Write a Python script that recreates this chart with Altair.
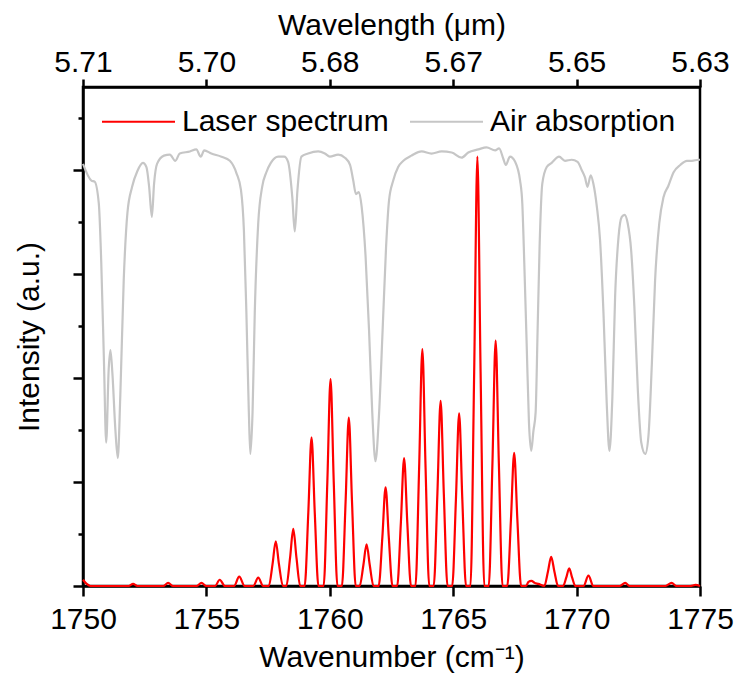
import altair as alt
import pandas as pd

# ---------------- data ----------------
laser_wn = [
    1750.00, 1750.15, 1750.30,
    1751.85, 1752.03, 1752.20,
    1753.25, 1753.45, 1753.65,
    1754.60, 1754.80, 1755.00,
    1755.35, 1755.54, 1755.75,
    1756.12, 1756.33, 1756.55,
    1756.90, 1757.10, 1757.30,
    1757.53, 1757.68, 1757.81, 1757.94, 1758.10,
    1758.24, 1758.39, 1758.52, 1758.65, 1758.80,
    1758.98, 1759.13, 1759.26, 1759.39, 1759.54,
    1759.75, 1759.90, 1760.03, 1760.16, 1760.31,
    1760.49, 1760.64, 1760.77, 1760.90, 1761.05,
    1761.21, 1761.36, 1761.49, 1761.62, 1761.77,
    1761.98, 1762.13, 1762.26, 1762.39, 1762.54,
    1762.73, 1762.88, 1763.01, 1763.14, 1763.29,
    1763.47, 1763.62, 1763.75, 1763.88, 1764.03,
    1764.21, 1764.36, 1764.49, 1764.62, 1764.77,
    1764.96, 1765.11, 1765.24, 1765.37, 1765.52,
    1765.70, 1765.85, 1765.98, 1766.11, 1766.26,
    1766.44, 1766.59, 1766.72, 1766.85, 1767.00,
    1767.19, 1767.34, 1767.47, 1767.60, 1767.75,
    1767.95, 1768.05, 1768.17, 1768.30, 1768.45,
    1768.69, 1768.84, 1768.97, 1769.10, 1769.25,
    1769.45, 1769.58, 1769.70, 1769.82, 1769.95,
    1770.28, 1770.48, 1770.68,
    1771.75, 1771.97, 1772.15,
    1773.60, 1773.85, 1774.05,
    1774.60, 1774.82, 1775.00,
]
laser_int = [
    0.06, 0.02, 0,
    0, 0.02, 0,
    0, 0.03, 0,
    0, 0.03, 0,
    0, 0.06, 0,
    0, 0.09, 0,
    0, 0.08, 0,
    0, 0.21, 0.43, 0.21, 0,
    0, 0.27, 0.55, 0.27, 0,
    0, 0.71, 1.43, 0.71, 0,
    0, 1.00, 1.99, 1.00, 0,
    0, 0.81, 1.62, 0.81, 0,
    0, 0.20, 0.40, 0.20, 0,
    0, 0.47, 0.95, 0.47, 0,
    0, 0.61, 1.23, 0.61, 0,
    0, 1.14, 2.28, 1.14, 0,
    0, 0.89, 1.78, 0.89, 0,
    0, 0.83, 1.66, 0.83, 0,
    0, 2.06, 4.13, 2.06, 0,
    0, 1.18, 2.36, 1.18, 0,
    0, 0.64, 1.28, 0.64, 0,
    0, 0.04, 0.05, 0.03, 0.02,
    0, 0.14, 0.28, 0.14, 0,
    0, 0.08, 0.17, 0.08, 0,
    0, 0.10, 0,
    0, 0.03, 0,
    0, 0.03, 0,
    0, 0.01, 0,
]

air_wn = [
    1750.00, 1750.34, 1750.47, 1750.64, 1750.74, 1750.85, 1750.94, 1751.04, 1751.11, 1751.19,
    1751.31, 1751.41, 1751.51, 1751.65, 1751.80, 1751.99, 1752.20, 1752.43, 1752.57, 1752.68,
    1752.79, 1752.88, 1753.00, 1753.28, 1753.52, 1753.74, 1753.92, 1754.33, 1754.59, 1754.77,
    1754.91, 1755.20, 1755.61, 1755.95, 1756.22, 1756.40, 1756.52, 1756.62, 1756.72, 1756.78,
    1756.87, 1756.96, 1757.10, 1757.26, 1757.43, 1757.61, 1757.91, 1758.15, 1758.31, 1758.48,
    1758.58, 1758.69, 1758.85, 1759.12, 1759.53, 1759.80, 1760.00, 1760.34, 1760.61, 1760.82,
    1760.95, 1761.06, 1761.18, 1761.29, 1761.45, 1761.59, 1761.72, 1761.85, 1761.99, 1762.14,
    1762.28, 1762.40, 1762.57, 1762.77, 1762.98, 1763.31, 1763.72, 1764.12, 1764.53, 1764.94,
    1765.34, 1765.61, 1766.02, 1766.35, 1766.70, 1766.86, 1767.03, 1767.13, 1767.30, 1767.51,
    1767.71, 1767.80, 1767.88, 1767.98, 1768.07, 1768.16, 1768.25, 1768.34, 1768.42, 1768.50,
    1768.61, 1768.79, 1768.99, 1769.29, 1769.53, 1769.80, 1770.04, 1770.21, 1770.34, 1770.44,
    1770.57, 1770.68, 1770.82, 1770.95, 1771.09, 1771.22, 1771.33, 1771.45, 1771.56, 1771.70,
    1771.83, 1771.94, 1772.07, 1772.21, 1772.34, 1772.48, 1772.62, 1772.78, 1772.91, 1773.05,
    1773.18, 1773.35, 1773.52, 1773.72, 1773.93, 1774.20, 1774.47, 1774.67, 1774.94, 1775.00,
]
air_int = [
    4.06, 3.90, 3.89, 3.68, 3.11, 2.15, 1.38, 2.08, 2.27, 2.05,
    1.51, 1.23, 1.82, 2.94, 3.59, 3.84, 3.99, 4.07, 4.03, 3.84,
    3.55, 3.87, 4.06, 4.14, 4.15, 4.09, 4.16, 4.18, 4.20, 4.13,
    4.19, 4.16, 4.13, 4.09, 3.97, 3.81, 3.42, 2.63, 1.67, 1.27,
    1.67, 2.63, 3.49, 3.84, 3.98, 4.07, 4.13, 4.13, 4.08, 3.74,
    3.41, 3.81, 4.13, 4.16, 4.18, 4.16, 4.13, 4.15, 4.12, 4.05,
    3.90, 3.77, 3.79, 3.65, 3.17, 2.46, 1.67, 1.20, 1.63, 2.46,
    3.26, 3.71, 3.90, 4.03, 4.09, 4.14, 4.18, 4.16, 4.18, 4.17,
    4.12, 4.17, 4.20, 4.22, 4.19, 4.21, 4.11, 4.05, 4.13, 4.08,
    3.90, 3.68, 3.11, 2.30, 1.57, 1.30, 1.49, 1.67, 2.46, 3.26,
    3.87, 4.03, 4.07, 4.13, 4.09, 4.10, 4.08, 4.00, 3.93, 3.84,
    3.95, 3.87, 3.65, 3.33, 2.62, 1.76, 1.30, 1.82, 2.78, 3.36,
    3.55, 3.57, 3.49, 3.23, 2.69, 1.89, 1.38, 1.27, 1.44, 2.14,
    2.94, 3.49, 3.74, 3.85, 3.98, 4.05, 4.09, 4.09, 4.10, 4.10,
]

x_ticks = [1750, 1755, 1760, 1765, 1770, 1775]
wavelength_labels = ["5.71", "5.70", "5.68", "5.67", "5.65", "5.63"]
y_major = [0, 1, 2, 3, 4]
y_minor = [0.5, 1.5, 2.5, 3.5, 4.5]
series = ["Laser spectrum", "Air absorption"]
colors = ["#ff0000", "#c6c6c6"]

# ---------------- chart ----------------
laser_df = pd.DataFrame({"wn": laser_wn, "val": laser_int, "series": series[0]})
air_df = pd.DataFrame({"wn": air_wn, "val": air_int, "series": series[1]})

FONT = "Liberation Sans"
xscale = alt.Scale(domain=[1750, 1775], nice=False, zero=False)
yscale = alt.Scale(domain=[0, 4.8], nice=False)

label_expr = (
    "[" + ",".join("'%s'" % s for s in wavelength_labels) + "]"
    + "[indexof([" + ",".join(str(t) for t in x_ticks) + "], datum.value)]"
)

color = alt.Color(
    "series:N",
    scale=alt.Scale(domain=series, range=colors),
    legend=alt.Legend(
        title=None, orient="none", direction="horizontal",
        legendX=18, legendY=-3,
        symbolType="stroke", symbolSize=5329, symbolStrokeWidth=2,
        labelFont=FONT, labelFontSize=30, labelColor="black", labelLimit=400,
        labelOffset=6, columnPadding=17, padding=0,
    ),
)

air = alt.Chart(air_df).mark_line(strokeWidth=2.2, interpolate="monotone").encode(
    x=alt.X("wn:Q", scale=xscale,
            axis=alt.Axis(orient="bottom", values=x_ticks, format="d", tickSize=10,
                          labelFlush=False, labelPadding=8,
                          title="Wavenumber (cm\u207b\u00b9)", titlePadding=8)),
    y=alt.Y("val:Q", scale=yscale,
            axis=alt.Axis(orient="left", values=y_major, labels=False, tickSize=10,
                          title="Intensity (a.u.)", titlePadding=27)),
    color=color,
)

laser = alt.Chart(laser_df).mark_line(strokeWidth=2.2, interpolate="monotone").encode(
    x=alt.X("wn:Q", scale=xscale,
            axis=alt.Axis(orient="top", values=x_ticks, labelExpr=label_expr, tickSize=8,
                          labelFlush=False, labelPadding=2,
                          title="Wavelength (\u03bcm)", titlePadding=7)),
    y=alt.Y("val:Q", scale=yscale,
            axis=alt.Axis(orient="left", values=y_minor, labels=False, tickSize=5,
                          domain=False, title=None)),
    color=color,
)

chart = (
    alt.layer(air, laser)
    .resolve_axis(x="independent", y="independent")
    .properties(
        width=617, height=499,
        autosize=alt.AutoSizeParams(type="none"),
        padding={"left": 75, "top": 79, "right": 34, "bottom": 88},
        background="white",
    )
    .configure_axis(
        domainColor="black", domainWidth=2.5, tickColor="black", tickWidth=2.5,
        labelFont=FONT, labelFontSize=30, labelColor="black",
        titleFont=FONT, titleFontSize=30, titleFontWeight="normal", titleColor="black",
        grid=False,
    )
    .configure_view(stroke="black", strokeWidth=2.5)
)

chart.save("out.html", embed_options={"renderer": "svg", "actions": False})
